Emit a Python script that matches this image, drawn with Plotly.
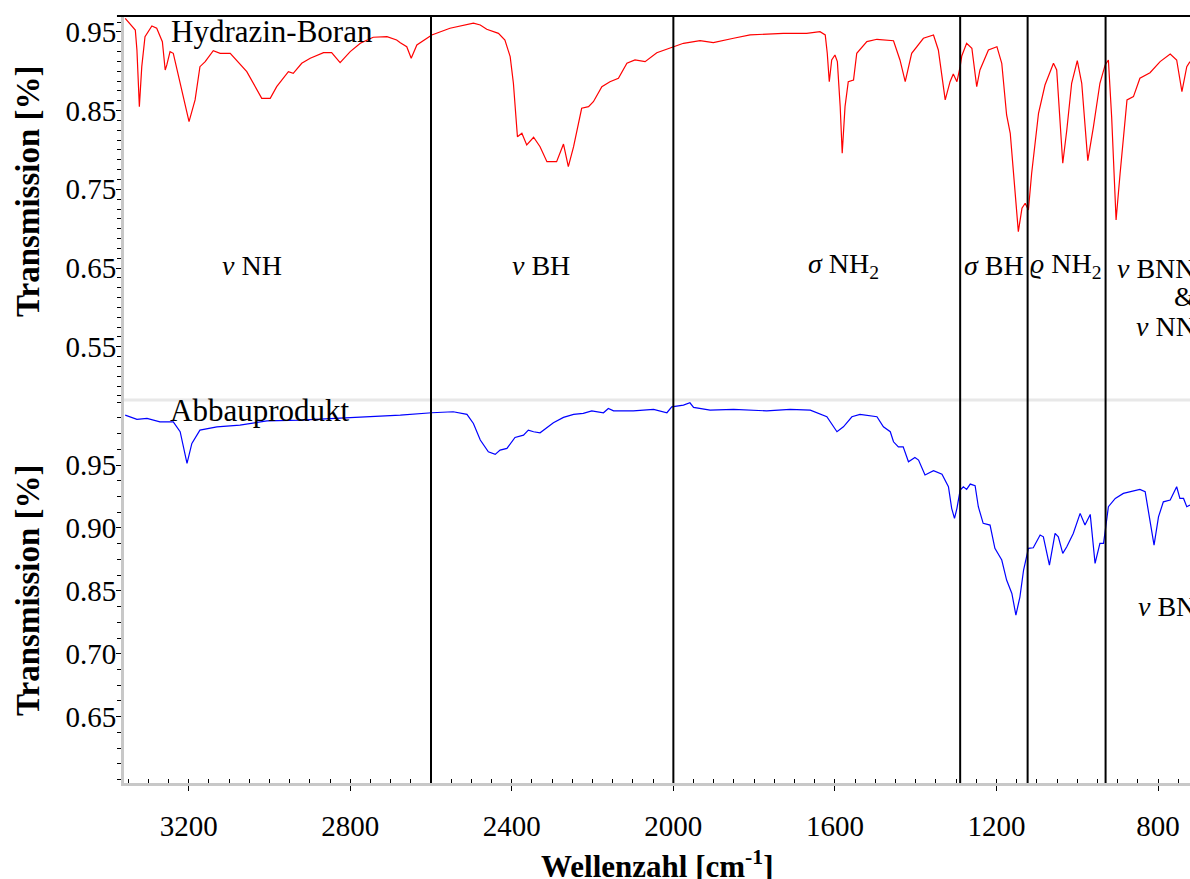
import plotly.graph_objects as go

# ---------------- data ----------------
# Hydrazin-Boran (top panel)
hb_wn = [3357, 3332, 3328, 3322, 3316, 3308, 3291, 3279, 3265, 3258, 3254, 3246, 3238, 3221,
         3199, 3184, 3172, 3159, 3139, 3122, 3097, 3056, 3040, 3019, 2998, 2982, 2953, 2941,
         2920, 2899, 2866, 2846, 2825, 2800, 2775, 2743, 2709, 2685, 2676, 2660, 2649, 2635,
         2598, 2553, 2495, 2478, 2462, 2433, 2417, 2404, 2396, 2386, 2375, 2363, 2346, 2330,
         2313, 2289, 2272, 2260, 2247, 2227, 2210, 2198, 2177, 2157, 2136, 2115, 2095, 2070,
         2041, 2008, 1975, 1934, 1901, 1851, 1810, 1728, 1670, 1637, 1624, 1619, 1614, 1608,
         1600, 1594, 1587, 1582, 1575, 1567, 1554, 1546, 1521, 1496, 1455, 1439, 1426, 1410,
         1381, 1356, 1344, 1327, 1315, 1307, 1298, 1290, 1286, 1274, 1261, 1249, 1241, 1220,
         1199, 1187, 1175, 1166, 1158, 1146, 1137, 1129, 1121, 1113, 1096, 1080, 1059, 1051,
         1036, 1026, 1014, 1000, 989, 974, 960, 944, 931, 923, 915, 904, 894, 877, 861, 845,
         820, 795, 770, 754, 741, 729, 721]
hb_t = [0.9674, 0.9525, 0.9271, 0.8551, 0.9059, 0.9440, 0.9576, 0.9547, 0.9377, 0.9017, 0.9081,
        0.9250, 0.9229, 0.8848, 0.8360, 0.8636, 0.9059, 0.9123, 0.9262, 0.9229, 0.9229, 0.8995,
        0.8848, 0.8657, 0.8657, 0.8805, 0.8995, 0.8975, 0.9102, 0.9166, 0.9237, 0.9237, 0.9110,
        0.9250, 0.9356, 0.9433, 0.9440, 0.9398, 0.9364, 0.9313, 0.9166, 0.9335, 0.9462, 0.9547,
        0.9611, 0.9589, 0.9534, 0.9483, 0.9398, 0.9186, 0.8848, 0.8169, 0.8212, 0.8064, 0.8162,
        0.8042, 0.7851, 0.7851, 0.8076, 0.7788, 0.8042, 0.8530, 0.8551, 0.8614, 0.8805, 0.8868,
        0.8912, 0.9102, 0.9144, 0.9123, 0.9237, 0.9293, 0.9356, 0.9389, 0.9364, 0.9420, 0.9462,
        0.9483, 0.9483, 0.9504, 0.9462, 0.9229, 0.8868, 0.9144, 0.9208, 0.9123, 0.8551, 0.7958,
        0.8551, 0.8868, 0.8890, 0.9229, 0.9377, 0.9407, 0.9389, 0.9144, 0.8868, 0.9229, 0.9420,
        0.9462, 0.9271, 0.8636, 0.8868, 0.8966, 0.8868, 0.9059, 0.9195, 0.9356, 0.9293, 0.8805,
        0.9017, 0.9271, 0.9313, 0.9102, 0.8445, 0.8212, 0.7704, 0.6962, 0.7259, 0.7323, 0.7238,
        0.7704, 0.8467, 0.8826, 0.9102, 0.9017, 0.7831, 0.8254, 0.8848, 0.9135, 0.8848, 0.7864,
        0.8296, 0.8848, 0.9081, 0.9144, 0.8423, 0.7110, 0.7704, 0.8636, 0.8678, 0.8912, 0.8983,
        0.9123, 0.9220, 0.9144, 0.8741, 0.9059, 0.9123]

# Abbauprodukt (bottom panel, internal linear scale)
ab_wn = [3357, 3328, 3303, 3271, 3238, 3221, 3204, 3192, 3172, 3130, 3073, 3006, 2924, 2842,
         2759, 2676, 2598, 2545, 2511, 2495, 2478, 2458, 2441, 2429, 2412, 2392, 2371, 2359,
         2346, 2330, 2297, 2272, 2247, 2223, 2202, 2173, 2161, 2148, 2099, 2049, 2016, 2004,
         1975, 1959, 1950, 1909, 1851, 1769, 1711, 1661, 1620, 1595, 1579, 1558, 1538, 1496,
         1480, 1463, 1455, 1443, 1431, 1418, 1402, 1393, 1377, 1356, 1335, 1319, 1311, 1304,
         1298, 1290, 1282, 1274, 1265, 1253, 1245, 1233, 1216, 1204, 1187, 1175, 1162, 1152,
         1142, 1133, 1121, 1109, 1092, 1084, 1069, 1063, 1055, 1047, 1036, 1026, 1010, 993,
         981, 968, 956, 944, 935, 923, 906, 886, 845, 832, 820, 810, 799, 787, 770, 754, 746,
         737, 729, 721]
ab_t = [0.9897, 0.9863, 0.9871, 0.9844, 0.9844, 0.9765, 0.9514, 0.9672, 0.9778, 0.9804, 0.9818,
        0.9852, 0.9858, 0.9871, 0.9879, 0.9897, 0.9916, 0.9924, 0.9903, 0.9831, 0.9699, 0.9606,
        0.9585, 0.9619, 0.9633, 0.9720, 0.9738, 0.9778, 0.9765, 0.9757, 0.9836, 0.9879, 0.9903,
        0.9911, 0.9931, 0.9916, 0.9950, 0.9931, 0.9931, 0.9943, 0.9916, 0.9963, 0.9977, 0.9995,
        0.9958, 0.9937, 0.9943, 0.9931, 0.9943, 0.9937, 0.9884, 0.9765, 0.9804, 0.9884, 0.9903,
        0.9884, 0.9804, 0.9765, 0.9685, 0.9645, 0.9645, 0.9526, 0.9561, 0.9540, 0.9421, 0.9455,
        0.9428, 0.9328, 0.9156, 0.9076, 0.9156, 0.9301, 0.9328, 0.9307, 0.9349, 0.9336, 0.9169,
        0.9037, 0.9023, 0.8838, 0.8745, 0.8586, 0.8480, 0.8308, 0.8453, 0.8666, 0.8838, 0.8843,
        0.8944, 0.8930, 0.8705, 0.8825, 0.8957, 0.8930, 0.8798, 0.8851, 0.8957, 0.9116, 0.9023,
        0.9108, 0.8719, 0.8878, 0.8878, 0.9169, 0.9235, 0.9275, 0.9307, 0.9288, 0.9063, 0.8864,
        0.9089, 0.9208, 0.9222, 0.9328, 0.9235, 0.9235, 0.9169, 0.9182]

band_edges = [2600, 2000, 1290, 1123, 930]
x_ticks = [3200, 2800, 2400, 2000, 1600, 1200, 800]
top_ticks = [0.95, 0.85, 0.75, 0.65, 0.55]
bot_tickvals = [0.95, 0.90, 0.85, 0.80, 0.75]
bot_ticktext = ["0.95", "0.90", "0.85", "0.70", "0.65"]

band_labels = ["<i>ν</i> NH", "<i>ν</i> BH", "<i>σ</i> NH<sub>2</sub>", "<i>σ</i> BH",
               "<i>ϱ</i> NH<sub>2</sub>"]
band_label_x = [3043, 2327, 1580, 1206, 1028]

FONT = "Liberation Serif, Times New Roman, serif"
split = 0.4993

fig = go.Figure()
fig.add_trace(go.Scatter(x=hb_wn, y=hb_t, mode="lines", xaxis="x", yaxis="y",
                         line=dict(color="#ff0000", width=1.2), showlegend=False))
fig.add_trace(go.Scatter(x=ab_wn, y=ab_t, mode="lines", xaxis="x", yaxis="y2",
                         line=dict(color="#0000ff", width=1.2), showlegend=False))

tickfont = dict(family=FONT, size=29, color="black")
axis_common = dict(showgrid=False, zeroline=False, showline=True, linecolor="#c8c8c8",
                   linewidth=3, ticks="outside", ticklen=5, tickcolor="black", tickwidth=1,
                   tickfont=tickfont)

fig.update_layout(
    width=1190, height=879,
    margin=dict(l=124, r=0, t=16, b=96),
    paper_bgcolor="white", plot_bgcolor="white",
    font=dict(family=FONT, color="black"),
    xaxis=dict(range=[3360, 721], domain=[0, 1], anchor="y2", tickmode="array",
               tickvals=x_ticks, ticktext=[str(v) for v in x_ticks], ticklabelstandoff=10,
               minor=dict(tickmode="linear", tick0=0, dtick=50, ticks="inside", ticklen=4,
                          tickcolor="black", showgrid=False),
               **axis_common),
    yaxis=dict(range=[0.4822, 0.9703], domain=[split, 1], anchor="x", tickmode="array",
               tickvals=top_ticks, ticktext=["%.2f" % v for v in top_ticks],
               ticklabelstandoff=-6,
               minor=dict(tickmode="linear", tick0=0.55, dtick=0.0125, ticks="outside",
                          ticklen=4, tickcolor="black", showgrid=False),
               **axis_common),
    yaxis2=dict(range=[0.6973, 1.0017], domain=[0, split], anchor="x", tickmode="array",
                tickvals=bot_tickvals, ticktext=bot_ticktext, ticklabelstandoff=-6,
                minor=dict(tickmode="linear", tick0=0.75, dtick=0.0125, ticks="outside",
                           ticklen=4, tickcolor="black", showgrid=False),
                **axis_common),
)

shapes = [
    dict(type="line", xref="paper", yref="paper", x0=-0.0066, x1=1, y0=1, y1=1,
         line=dict(color="black", width=2)),
    dict(type="line", xref="paper", yref="paper", x0=0, x1=1, y0=split, y1=split,
         line=dict(color="#e8e8e8", width=3)),
]
for e in band_edges:
    shapes.append(dict(type="line", xref="x", yref="paper", x0=e, x1=e, y0=0, y1=1,
                       line=dict(color="black", width=2)))
fig.update_layout(shapes=shapes)

lab_font = dict(family=FONT, size=28, color="black")
ann = [
    dict(text="Hydrazin-Boran", x=2993, y=0.95, xref="x", yref="y",
         font=dict(family=FONT, size=31, color="black")),
    dict(text="Abbauprodukt", x=3025, y=0.9937, xref="x", yref="y2",
         font=dict(family=FONT, size=31, color="black")),
]
for t, xv in zip(band_labels, band_label_x):
    ann.append(dict(text=t, x=xv, y=0.6538, xref="x", yref="y", font=lab_font))
ann += [
    dict(text="<i>ν</i> BNN", x=1.0075, y=0.650, xref="paper", yref="y", xanchor="right",
         font=lab_font),
    dict(text="&", x=1.0075, y=0.6132, xref="paper", yref="y", xanchor="right", font=lab_font),
    dict(text="<i>ν</i> NN", x=1.0075, y=0.5763, xref="paper", yref="y", xanchor="right",
         font=lab_font),
    dict(text="<i>ν</i> BN", x=1.0075, y=0.8372, xref="paper", yref="y2", xanchor="right",
         font=lab_font),
    dict(text="<b>Wellenzahl [cm<sup>-1</sup>]</b>", x=0.5, y=-0.1069, xref="paper",
         yref="paper", font=dict(family=FONT, size=31, color="black")),
    dict(text="<b>Transmission [%]</b>", x=-0.0901, y=0.7718, xref="paper", yref="paper",
         textangle=-90, font=dict(family=FONT, size=33, color="black")),
    dict(text="<b>Transmission [%]</b>", x=-0.0901, y=0.2516, xref="paper", yref="paper",
         textangle=-90, font=dict(family=FONT, size=33, color="black")),
]
for a in ann:
    a.setdefault("showarrow", False)
    a.setdefault("xanchor", "center")
    a.setdefault("yanchor", "middle")
fig.update_layout(annotations=ann)

fig.write_html("out.html")
